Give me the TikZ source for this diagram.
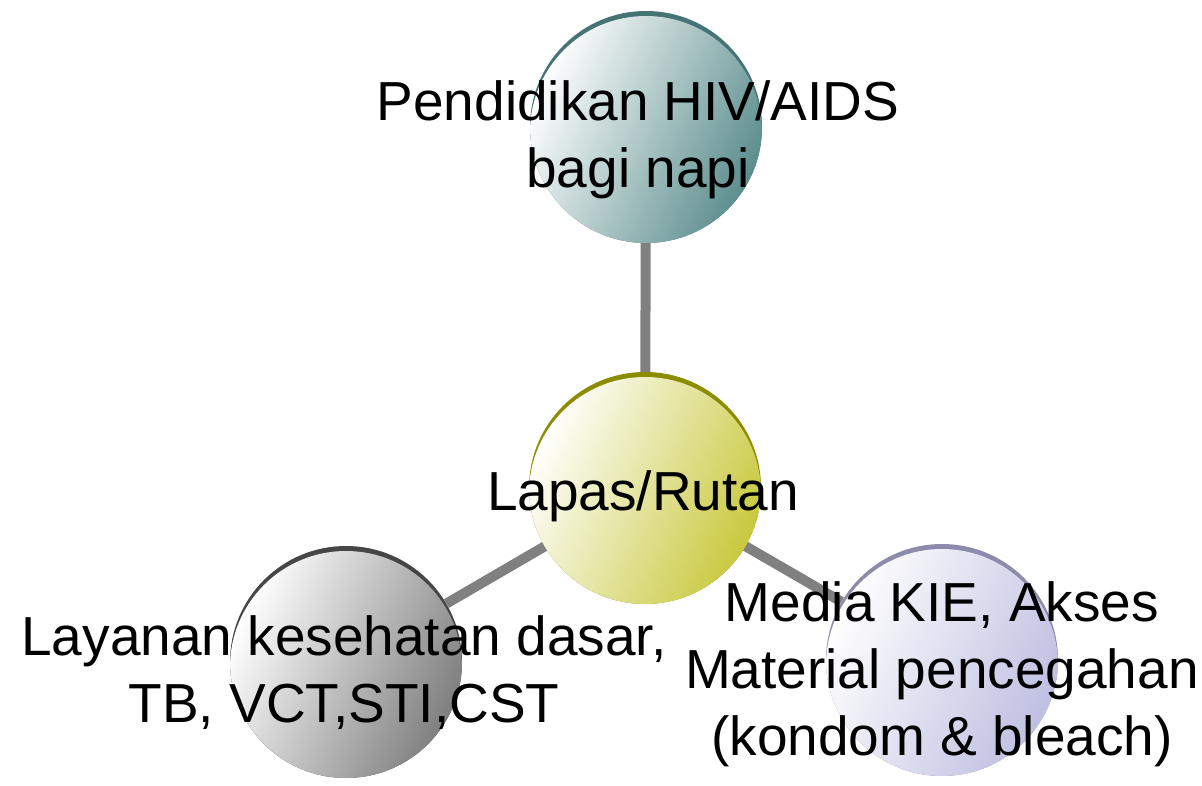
\documentclass[tikz,border=0pt]{standalone}
\usepackage{fontspec}
\setmainfont{Liberation Sans}
\usetikzlibrary{backgrounds}
\pgfdeclarelayer{bg}
\pgfdeclarelayer{lines}
\pgfsetlayers{bg,lines,main}
\definecolor{tealc}{RGB}{90,140,140}
\definecolor{tealr}{RGB}{70,115,115}
\definecolor{yelc}{RGB}{200,200,60}
\definecolor{yelr}{RGB}{140,140,0}
\definecolor{grayc}{RGB}{125,125,125}
\definecolor{grayr}{RGB}{70,70,70}
\definecolor{lavc}{RGB}{190,190,225}
\definecolor{lavr}{RGB}{140,140,170}
\definecolor{connc}{RGB}{128,128,128}
\tikzset{
  bubble/.style 2 args={circle, minimum size=232pt, inner sep=0pt,
    path picture={
      \fill[#2] (path picture bounding box.center) circle (120pt);
      \shade[left color=white, middle color=#1!10!white, right color=#1, shading angle=65]
        ([yshift=-5pt]path picture bounding box.center) circle (116pt);
    }},
  conn/.style={draw=connc, line width=10pt},
  lbl/.style={font=\fontsize{55}{67}\selectfont, align=center, inner sep=0pt, anchor=base}
}
\begin{document}
\begin{tikzpicture}[x=1pt,y=-1pt]
\begin{pgfonlayer}{bg}
\fill[white] (0,0) rectangle (1202,786);
\end{pgfonlayer}
\useasboundingbox (0,0) rectangle (1202,786);
\node[bubble={tealc}{tealr}] (top) at (646,127) {};
\node[bubble={yelc}{yelr}] (mid) at (645,488) {};
\node[bubble={grayc}{grayr}] (left) at (346,662) {};
\node[bubble={lavc}{lavr}] (right) at (942,660) {};
\begin{pgfonlayer}{lines}
\draw[conn] (mid) -- (top);
\draw[conn] (mid) -- (left);
\draw[conn] (mid) -- (right);
\end{pgfonlayer}
\node[lbl] (topt) at (638,188) {Pendidikan HIV/AIDS\\bagi napi};
\node[lbl] (midt) at (643,510) {Lapas/Rutan};
\node[lbl] (leftt) at (344,722) {Layanan kesehatan dasar,\\TB, VCT,STI,CST};
\node[lbl] (rightt) at (942,755) {Media KIE, Akses\\Material pencegahan\\(kondom \& bleach)};
\end{tikzpicture}
\end{document}
